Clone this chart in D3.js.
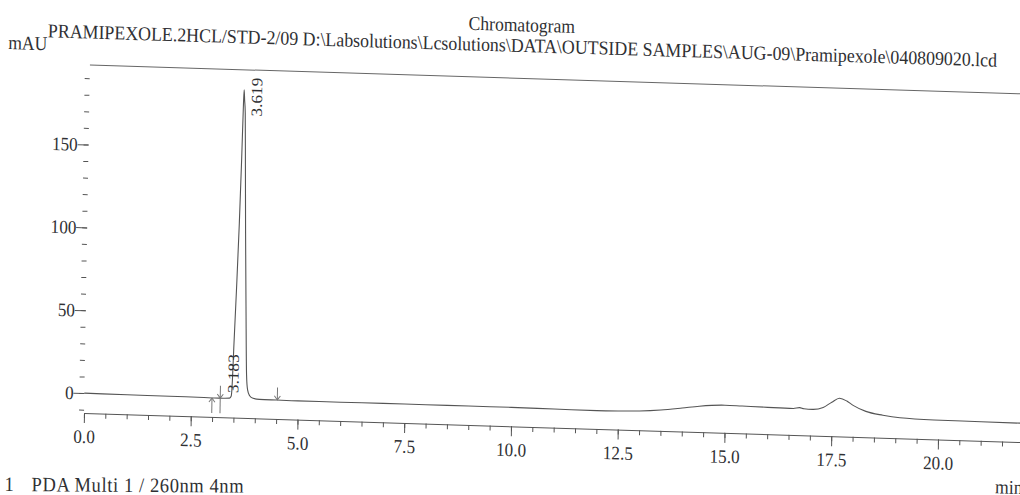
<!DOCTYPE html>
<html>
<head>
<meta charset="utf-8">
<script src="https://cdn.jsdelivr.net/npm/d3@7"></script>
<style>
    body { margin: 0; background: #fff; }
    svg { display: block; font-family: "Liberation Serif", "DejaVu Serif", serif; }
</style>
</head>
<body>
<div id="chart"></div>
<script>
// retention time (min) and detector response (mAU)
const times = [
    0, 1, 2, 2.8, 3.05, 3.25, 3.40, 3.44, 3.46, 3.48, 3.52, 3.56, 3.59, 3.61, 3.62,
    3.635, 3.655, 3.68, 3.71, 3.75, 3.79, 3.82, 3.87, 3.95, 4.1, 4.5, 5, 6, 7, 8,
    9, 10, 11, 12, 12.5, 13, 13.5, 14, 14.4, 15, 15.4, 16, 16.6, 16.75, 16.85,
    17.05, 17.3, 17.5, 17.68, 17.85, 18, 18.3, 18.7, 19.1, 19.9, 21, 22.5
];
const signal = [
    0, -0.2, -0.3, -0.4, -0.5, -0.5, -0.3, 1, 10, 30, 65, 105, 145, 178, 186,
    180, 172, 140, 100, 55, 14, 5, 1.5, 0, -0.5, -0.6, -0.7, -0.7, -0.6, -0.6,
    -0.6, -0.6, -0.8, -1.0, -0.8, -0.4, 0.6, 2.2, 3.6, 4.7, 4.5, 4.2, 4.0, 4.6, 4.0,
    3.8, 5.2, 8.5, 11.0, 9.5, 7.0, 3.6, 1.6, 0.4, -0.3, -0.5, -0.7
];

// peak table: retention times and where their labels start (mAU)
const peakTimes = [3.183, 3.619];
const peakLabelLevels = [2.8, 170];

// integration marks: time, top and bottom of the mark (mAU)
const markTimes = [2.99, 3.183, 4.52];
const markTops = [-0.6, 7, 7];
const markBottoms = [-9.6, -9.6, -0.6];
const markPointsUp = [true, false, false];

const xMajorTicks = [0, 2.5, 5, 7.5, 10, 12.5, 15, 17.5, 20, 22.5];
const yMajorTicks = [0, 50, 100, 150];

const headerText = 'PRAMIPEXOLE.2HCL/STD-2/09 D:\\Labsolutions\\Lcsolutions\\DATA\\OUTSIDE SAMPLES\\AUG-09\\Pramipexole\\040809020.lcd';

const width = 1020;
const height = 495;
const ink = '#2f3033';
const squeeze = 0.9;   // the scan is a bit narrower than it is tall

const svg = d3.select('#chart')
    .append('svg')
    .attr('width', width)
    .attr('height', height);

// the page was scanned slightly askew, so skew everything the same way
const page = svg.append('g')
    .attr('transform', 'matrix(1,0.031,-0.017,1,7.02,-2.6)');

const x = d3.scaleLinear().domain([0, 22.5]).range([84, 84 + 22.5 * 42.7]);
const y = d3.scaleLinear().domain([-12, 198]).range([413, 65]);

function addText(parent, px, py, str, size, anchor) {
    return parent.append('text')
        .attr('transform', `translate(${px},${py}) scale(${squeeze},1)`)
        .attr('text-anchor', anchor || 'start')
        .style('font-size', size + 'px')
        .style('fill', ink)
        .text(str);
}

// header
addText(page, 515, 18, 'Chromatogram', 19.5, 'middle');
addText(page, 2, 51.5, 'mAU', 19.5);

page.append('text')
    .attr('x', 41.5).attr('y', 38.6)
    .attr('textLength', 949)
    .attr('lengthAdjust', 'spacingAndGlyphs')
    .style('font-size', '19.5px')
    .style('fill', ink)
    .text(headerText);

// top frame line
page.append('line')
    .attr('x1', x(0)).attr('x2', x(22.5))
    .attr('y1', y(198)).attr('y2', y(198))
    .attr('stroke', '#666')
    .attr('stroke-width', 1);

// x axis: major ticks with labels, minor ticks every 0.5 min
const xAxisG = page.append('g')
    .attr('transform', `translate(0,${y(-12)})`)
    .call(d3.axisBottom(x)
        .tickValues(xMajorTicks)
        .tickFormat(d3.format('.1f'))
        .tickSize(10)
        .tickSizeOuter(0)
        .tickPadding(6.5));

page.append('g')
    .attr('transform', `translate(0,${y(-12)})`)
    .call(d3.axisBottom(x)
        .tickValues(d3.range(0, 22.51, 0.5))
        .tickFormat('')
        .tickSize(5))
    .call(g => g.select('.domain').remove());

// y axis: ticks only, no axis line
const yAxisG = page.append('g')
    .attr('transform', `translate(${x(0)},0)`)
    .call(d3.axisLeft(y)
        .tickValues(yMajorTicks)
        .tickFormat(d3.format('d'))
        .tickSize(11)
        .tickPadding(1))
    .call(g => g.select('.domain').remove());

page.append('g')
    .attr('transform', `translate(${x(0)},0)`)
    .call(d3.axisLeft(y)
        .tickValues(d3.range(-10, 195, 10))
        .tickFormat('')
        .tickSize(5))
    .call(g => g.select('.domain').remove());

page.selectAll('.tick line').attr('stroke', '#555');
page.selectAll('.domain').attr('stroke', '#555');
[xAxisG, yAxisG].forEach(g => {
    g.attr('font-family', null).attr('font-size', null);
    g.selectAll('text')
        .attr('transform', `scale(${squeeze},1)`)
        .style('font-family', '"Liberation Serif", serif')
        .style('font-size', '19px')
        .style('fill', ink);
});

// chromatogram trace
const trace = d3.line()
    .x((d, i) => x(times[i]))
    .y(d => y(d))
    .curve(d3.curveMonotoneX);

page.append('path')
    .datum(signal)
    .attr('d', trace)
    .attr('fill', 'none')
    .attr('stroke', '#555')
    .attr('stroke-width', 1.1);

// integration marks
const marks = page.selectAll('.mark')
    .data(markTimes)
    .enter()
    .append('g')
    .attr('class', 'mark');

marks.append('line')
    .attr('x1', d => x(d)).attr('x2', d => x(d))
    .attr('y1', (d, i) => y(markTops[i]))
    .attr('y2', (d, i) => y(markBottoms[i]))
    .attr('stroke', '#777')
    .attr('stroke-width', 1);

marks.append('path')
    .attr('d', (d, i) => {
        const tipY = markPointsUp[i] ? y(markTops[i]) : y(-0.5);
        const s = markPointsUp[i] ? 4 : -4;
        return `M${x(d) - 3},${tipY + s}L${x(d)},${tipY}L${x(d) + 3},${tipY + s}`;
    })
    .attr('fill', 'none')
    .attr('stroke', '#777')
    .attr('stroke-width', 1);

// peak labels, written upwards beside each peak
page.selectAll('.peak-label')
    .data(peakTimes)
    .enter()
    .append('text')
    .attr('class', 'peak-label')
    .attr('transform', (d, i) => `translate(${x(d) + 18},${y(peakLabelLevels[i])}) scale(${squeeze},1) rotate(-90)`)
    .style('font-size', '17.3px')
    .style('fill', ink)
    .text(d => d.toFixed(3));

addText(page, 996, 465, 'min', 19.5);

// footer sits almost level on the scan
const footer = svg.append('g').attr('transform', 'rotate(0.4)');
addText(footer, 8, 491, '1', 20.5);
addText(footer, 35, 491, 'PDA Multi 1 / 260nm 4nm', 20.5).attr('textLength', 212 / squeeze);
</script>
</body>
</html>
